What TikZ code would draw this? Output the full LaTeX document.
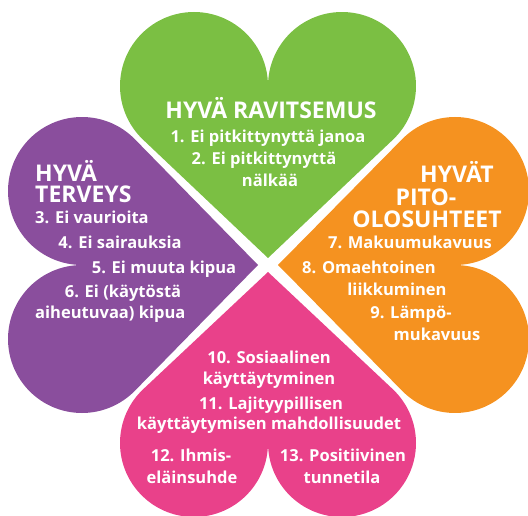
\documentclass[tikz,border=0pt]{standalone}
\usepackage{fontspec}
\setmainfont{Open Sans}
\definecolor{hgreen}{RGB}{123,191,67}
\definecolor{hpurple}{RGB}{138,78,157}
\definecolor{horange}{RGB}{245,146,32}
\definecolor{hpink}{RGB}{233,65,138}
\newcommand{\myheart}[4]{%
  \pgfmathsetmacro\hth{2*atan(74/(#3-#4))}%
  \fill[#1, shift={(268,250)}, rotate=#2]
    (0,#4) -- ({74+74*cos(\hth)},{#3-74*sin(\hth)})
    arc[start angle=-\hth, end angle=180, radius=74]
    arc[start angle=0, end angle={180+\hth}, radius=74] -- cycle;}
\tikzset{
  body/.style={text=white, inner sep=0pt, yshift=-2.5pt, font=\bfseries\fontsize{16.5}{18}\selectfont, text height=12pt, text depth=3.3pt},
  ttl/.style={text=white, inner sep=0pt, yshift=-3pt, font=\bfseries\fontsize{23}{25}\selectfont, text height=16.4pt, text depth=0pt}
}
\begin{document}
\begin{tikzpicture}[x=1pt,y=1pt]
\useasboundingbox (0,0) rectangle (528,515);
\myheart{hgreen}{0}{179}{7}
\myheart{hpurple}{90}{186}{10}
\myheart{horange}{-90}{187}{10}
\myheart{hpink}{180}{178}{7}
% green
\node[ttl]  (g0) at (271,{515-107}) {HYVÄ RAVITSEMUS};
\node[body] (g1) at (268,{515-136}) {1. Ei pitkittynyttä janoa};
\node[body] (g2) at (264,{515-158}) {2. Ei pitkittynyttä};
\node[body] (g3) at (270,{515-180}) {nälkää};
% purple
\node[ttl,anchor=west]  (p0) at (35,{515-170}) {HYVÄ};
\node[ttl,anchor=west]  (p1) at (35,{515-191}) {TERVEYS};
\node[body,anchor=west] (p2) at (35,{515-217}) {3. Ei vaurioita};
\node[body] (p3) at (120,{515-242}) {4. Ei sairauksia};
\node[body] (p4) at (164,{515-267}) {5. Ei muuta kipua};
\node[body] (p5) at (123,{515-291}) {6. Ei (käytöstä};
\node[body,anchor=west] (p6) at (35,{515-312}) {aiheutuvaa) kipua};
% orange
\node[ttl]  (o0) at (457,{515-171}) {HYVÄT};
\node[ttl]  (o1) at (426,{515-194}) {PITO-};
\node[ttl]  (o2) at (427,{515-216}) {OLOSUHTEET};
\node[body] (o3) at (410,{515-242}) {7. Makuumukavuus};
\node[body] (o4) at (369,{515-267}) {8. Omaehtoinen};
\node[body] (o5) at (397,{515-289}) {liikkuminen};
\node[body] (o6) at (411,{515-312}) {9. Lämpö-};
\node[body] (o7) at (437,{515-334}) {mukavuus};
% pink
\node[body] (k0) at (269,{515-357}) {10. Sosiaalinen};
\node[body] (k1) at (269,{515-378}) {käyttäytyminen};
\node[body] (k2) at (271,{515-403}) {11. Lajityypillisen};
\node[body] (k3) at (269,{515-423}) {käyttäytymisen mahdollisuudet};
\node[body] (k4) at (191,{515-455}) {12. Ihmis-};
\node[body] (k5) at (192,{515-477}) {eläinsuhde};
\node[body] (k6) at (343,{515-455}) {13. Positiivinen};
\node[body] (k7) at (342,{515-477}) {tunnetila};
\end{tikzpicture}
\end{document}
